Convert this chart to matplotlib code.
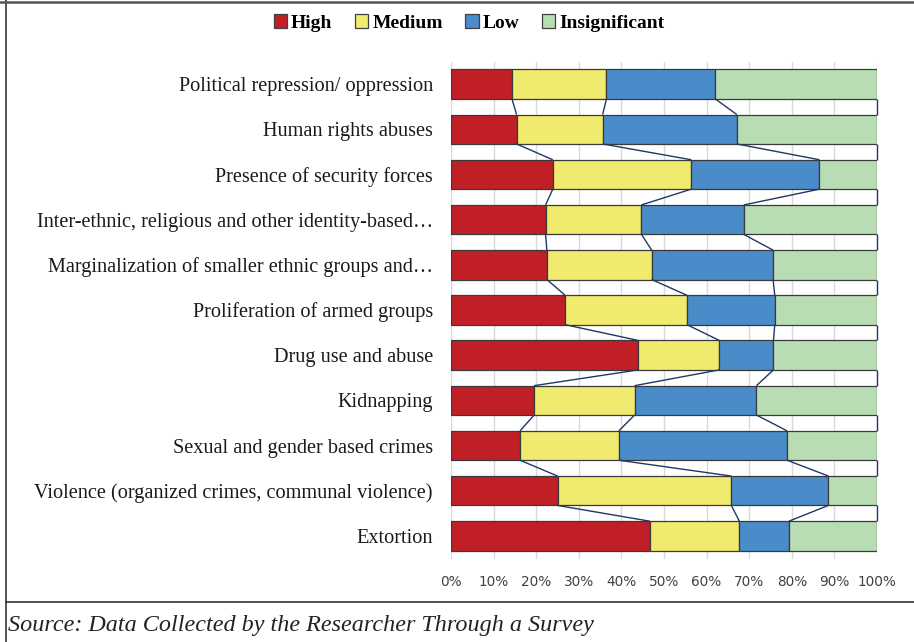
import matplotlib
matplotlib.use("Agg")
import matplotlib.pyplot as plt
from matplotlib.patches import Patch
from matplotlib.lines import Line2D
import numpy as np

categories = [
    "Political repression/ oppression",
    "Human rights abuses",
    "Presence of security forces",
    "Inter-ethnic, religious and other identity-based\u2026",
    "Marginalization of smaller ethnic groups and\u2026",
    "Proliferation of armed groups",
    "Drug use and abuse",
    "Kidnapping",
    "Sexual and gender based crimes",
    "Violence (organized crimes, communal violence)",
    "Extortion",
]
series_names = ["High", "Medium", "Low", "Insignificant"]
high = [14.3, 15.4, 23.9, 22.2, 22.5, 26.8, 44.0, 19.5, 16.2, 25.0, 46.7]
medium = [22.2, 20.2, 32.5, 22.5, 24.6, 28.6, 19.0, 23.6, 23.2, 40.8, 21.0]
low = [25.5, 31.5, 30.1, 24.0, 28.5, 20.6, 12.7, 28.6, 39.5, 22.8, 11.6]
insignificant = [38.0, 32.9, 13.5, 31.3, 24.4, 24.0, 24.3, 28.3, 21.1, 11.4, 20.7]
x_ticks = [0, 10, 20, 30, 40, 50, 60, 70, 80, 90, 100]
x_tick_labels = ["0%", "10%", "20%", "30%", "40%", "50%", "60%", "70%", "80%", "90%", "100%"]
source_text = "Source: Data Collected by the Researcher Through a Survey"

colors = ["#c11f26", "#f0ea6e", "#4a8bc9", "#b8ddb4"]

W, H = 914, 642
fig = plt.figure(figsize=(W / 100, H / 100), dpi=100)

left, right, top, bottom = 451, 877, 61.5, 558.5
ax = fig.add_axes([left / W, 1 - bottom / H, (right - left) / W, (bottom - top) / H])

data = np.array([high, medium, low, insignificant], dtype=float).T
data = data / data.sum(axis=1, keepdims=True) * 100
n = len(categories)
y = np.arange(n)
bh = 0.65
cum = np.zeros(n)
cums = [cum.copy()]
for k in range(4):
    ax.barh(y, data[:, k], left=cum, height=bh, color=colors[k],
            edgecolor="#3a3a3a", linewidth=0.9, zorder=3)
    cum = cum + data[:, k]
    cums.append(cum.copy())

# series lines
for k in range(1, 5):
    for i in range(n - 1):
        ax.plot([cums[k][i], cums[k][i + 1]], [i + bh / 2, i + 1 - bh / 2],
                color="#1f3864", lw=1.0, zorder=4, solid_capstyle="butt", clip_on=False)

ax.set_xlim(0, 100)
ax.set_ylim(n - 0.5, -0.5)
ax.set_xticks(x_ticks)
ax.set_xticklabels(x_tick_labels, fontsize=9.8, color="#404040",
                   fontfamily="DejaVu Sans")
ax.set_yticks(y)
ax.set_yticklabels(categories, fontsize=14.6, color="#1a1a1a",
                   fontfamily="Liberation Serif")
ax.tick_params(axis="both", length=0)
ax.tick_params(axis="y", pad=13)
ax.tick_params(axis="x", pad=12)
for s in ax.spines.values():
    s.set_visible(False)
ax.grid(axis="x", color="#d9d9d9", lw=1.0, zorder=0)
ax.set_axisbelow(True)

handles = [Patch(facecolor=c, edgecolor="#404040", linewidth=0.9) for c in colors]
leg = fig.legend(handles, series_names, loc="center", bbox_to_anchor=(469 / W, 1 - 23 / H),
                 ncol=4, frameon=False, handlelength=0.7, handleheight=0.7,
                 handletextpad=0.2, columnspacing=1.15,
                 prop={"family": "Liberation Serif", "weight": "bold", "size": 14})

fig.text(8 / W, 1 - 625 / H, source_text, fontsize=17.4, style="italic",
         fontfamily="Liberation Serif", color="#222222", va="center", ha="left")

# frame lines
fig.add_artist(Line2D([0, 1], [1 - 1.5 / H, 1 - 1.5 / H], transform=fig.transFigure,
                      color="#555555", lw=1.8))
fig.add_artist(Line2D([5.5 / W, 5.5 / W], [0, 1], transform=fig.transFigure,
                      color="#555555", lw=1.4))
fig.add_artist(Line2D([5.5 / W, 1], [1 - 602 / H, 1 - 602 / H], transform=fig.transFigure,
                      color="#333333", lw=1.2))

fig.savefig("out.png", dpi=100)
